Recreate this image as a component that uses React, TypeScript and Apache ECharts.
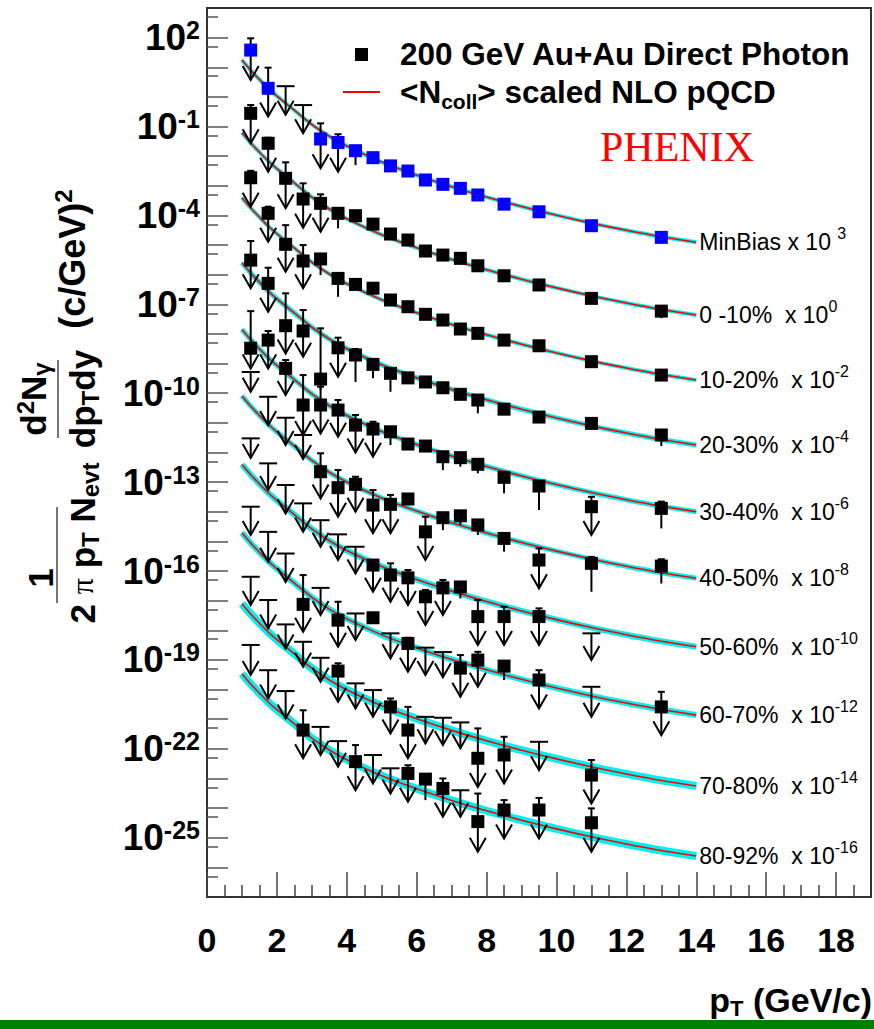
import React, { useEffect, useRef } from 'react';
import * as echarts from 'echarts';

// pT bin centres (GeV/c)
const ptBins = [1.25, 1.75, 2.25, 2.75, 3.25, 3.75, 4.25, 4.75, 5.25, 5.75, 6.25, 6.75, 7.25, 7.75, 8.5, 9.5, 11, 13];

// Each entry: [value (square) | null, upper end | null, lower end | null, arrow (1 = upper limit arrow)]
type Pt = [number | null, number | null, number | null, number] | null;

const minBias: Pt[] = [
  [38, 95, 3.7, 1], [1.95, 9.7, 0.22, 1], [null, 2.3, 0.25, 1], [null, 0.53, 0.059, 1],
  [0.038, 0.128, 0.0039, 1], [0.029, 0.055, 0.003, 1], [0.0153, 0.021, 0.005, 0], [8.9e-3, null, null, 0],
  [4.7e-3, null, null, 0], [3.15e-3, null, null, 0], [1.57e-3, null, null, 0], [1.12e-3, null, null, 0],
  [8.2e-4, null, null, 0], [4.9e-4, null, null, 0], [2.4e-4, null, null, 0], [1.33e-4, null, null, 0],
  [4.5e-5, null, null, 0], [1.82e-5, null, null, 0],
];
const cent0010: Pt[] = [
  [0.279, 0.532, 0.0272, 1], [0.0272, 0.042, 0.003, 1], [1.79e-3, 6.2e-3, 1.74e-4, 1], [3.58e-4, 1.21e-3, 3.85e-5, 1],
  [2.56e-4, 5.15e-4, 2.8e-5, 1], [1.18e-4, null, 3.67e-5, 0], [9.8e-5, null, null, 0], [5.1e-5, null, null, 0],
  [2.36e-5, null, null, 0], [1.48e-5, null, null, 0], [6.3e-6, null, null, 0], [4.6e-6, null, null, 0],
  [3.56e-6, null, null, 0], [2.0e-6, null, null, 0], [9.2e-7, null, null, 0], [4.5e-7, null, null, 0],
  [1.59e-7, null, null, 0], [5.9e-8, null, 3.4e-8, 0],
];
const cent1020: Pt[] = [
  [1.87e-3, 3.2e-3, 1.97e-4, 1], [1.18e-4, 1.97e-4, 1.3e-5, 1], [1.06e-5, 4.7e-5, 1.26e-6, 1], [2.9e-6, 1.0e-5, 3.5e-7, 1],
  [3.4e-6, 4.6e-6, 9.7e-7, 0], [7.5e-7, null, 1.8e-7, 0], [4.7e-7, null, null, 0], [3.5e-7, null, null, 0],
  [1.4e-7, null, null, 0], [8.3e-8, null, null, 0], [4.6e-8, null, null, 0], [2.95e-8, null, null, 0],
  [1.47e-8, null, null, 0], [1.05e-8, null, null, 0], [6.2e-9, null, null, 0], [4.0e-9, null, null, 0],
  [1.16e-9, null, null, 0], [4.1e-10, null, null, 0],
];
const cent2030: Pt[] = [
  [3.1e-6, 1.37e-5, 3.5e-7, 1], [5.1e-7, 1.72e-6, 5.6e-8, 1], [1.9e-8, 2.35e-7, 2.2e-9, 1], [1.26e-8, 6.4e-8, 1.7e-9, 1],
  [3.0e-10, 1.55e-8, 1.28e-10, 0], [3.4e-9, 7.5e-9, 3.6e-10, 1], [1.95e-9, 3.1e-9, 2.4e-10, 0], [9.4e-10, null, 3.2e-10, 0],
  [4.7e-10, null, 1.12e-10, 0], [3.3e-10, null, null, 0], [2.4e-10, null, null, 0], [1.53e-10, null, null, 0],
  [9.2e-11, null, null, 0], [5.9e-11, null, 2.1e-11, 0], [2.9e-11, null, null, 0], [1.57e-11, null, null, 0],
  [9.6e-12, null, null, 0], [3.9e-12, null, 1.65e-12, 0],
];
const cent3040: Pt[] = [
  [3.3e-9, 5.9e-8, 6.9e-10, 1], [6.2e-9, 1.26e-8, 6.9e-10, 1], [6.9e-10, 1.32e-9, 8.7e-11, 1], [4.0e-11, 4.1e-10, 3.9e-12, 1],
  [4.0e-11, 1.66e-10, 4.4e-12, 1], [2.7e-11, 5.9e-11, 3.4e-12, 1], [8.4e-12, 1.84e-11, 1.0e-12, 1], [6.2e-12, 1.09e-11, 7.2e-13, 1],
  [5.0e-12, 6.8e-12, 1.78e-12, 0], [1.93e-12, null, null, 0], [1.65e-12, null, null, 0], [7.2e-13, null, 2.55e-13, 0],
  [6.7e-13, null, 3.3e-13, 0], [4.0e-13, null, 1.98e-13, 0], [1.45e-13, null, 4.2e-14, 0], [7.4e-14, null, 1.14e-14, 0],
  [1.48e-14, 3.2e-14, 1.64e-15, 1], [1.3e-14, 2.2e-14, 2.75e-15, 0],
];
const cent4050: Pt[] = [
  [null, 5.2e-10, 1.12e-10, 1], [null, 7.6e-11, 8.4e-12, 1], [null, 1.49e-11, 1.78e-12, 1], [null, 3.9e-12, 6.0e-13, 1],
  [2.24e-13, 9.4e-13, 2.8e-14, 1], [6.5e-14, 2.55e-13, 6.8e-15, 1], [8.4e-14, 1.52e-13, 1.0e-14, 1], [1.68e-14, 5.4e-14, 1.87e-15, 1],
  [1.78e-14, 3.7e-14, 1.87e-15, 1], [2.7e-14, null, null, 0], [2.1e-15, 6.8e-15, 2.35e-16, 1], [6.3e-15, null, 2.4e-15, 0],
  [7.3e-15, null, 3.6e-15, 0], [3.6e-15, null, 1.64e-15, 0], [1.26e-15, null, 4.5e-16, 0], [2.35e-16, 5.8e-16, 2.6e-17, 1],
  [1.82e-16, 3.0e-16, 2.0e-17, 0], [1.47e-16, 2.5e-16, 3.8e-17, 0],
];
const cent5060: Pt[] = [
  [null, 3.0e-12, 6.5e-13, 1], [null, 4.3e-13, 5.4e-14, 1], [null, 8.0e-14, 8.8e-15, 1], [null, 1.92e-14, 2.1e-15, 1],
  [null, 5.2e-15, 6.6e-16, 1], [null, 1.73e-15, 2.35e-16, 1], [null, 6.6e-16, 8.3e-17, 1], [1.59e-16, 2.35e-16, 2.0e-17, 1],
  [7.3e-17, 1.82e-16, 9.2e-18, 1], [5.9e-17, 1.08e-16, 7.1e-18, 1], [1.35e-17, 2.3e-17, 1.5e-18, 1], [2.7e-17, 5.0e-17, 3.3e-18, 1],
  [2.9e-17, null, 1.19e-17, 0], [2.9e-18, 1.05e-17, 3.2e-19, 1], [2.9e-18, 6.2e-18, 3.2e-19, 1], [2.9e-18, 5.5e-18, 3.2e-19, 1],
  [null, 7.9e-19, 9.9e-20, 1], null,
];
const cent6070: Pt[] = [
  [null, 1.48e-14, 1.64e-15, 1], [null, 2.1e-15, 2.06e-16, 1], [null, 3.9e-16, 4.3e-17, 1], [7.5e-18, 7.3e-17, 8.9e-19, 1],
  [null, 2.7e-17, 3.3e-18, 1], [2.2e-18, 9.2e-18, 2.8e-19, 1], [null, 3.7e-18, 4.7e-19, 1], [2.65e-18, null, null, 0],
  [null, 7.9e-19, 1.13e-19, 1], [3.6e-19, 5.6e-19, 4.0e-20, 1], [null, 2.6e-19, 3.1e-20, 1], [null, 1.84e-19, 2.6e-20, 1],
  [5.3e-20, 1.46e-19, 5.7e-21, 1], [9.9e-20, 1.88e-19, 1.24e-20, 1], [6.2e-20, null, 2.1e-20, 0], [2.1e-20, 4.5e-20, 2.3e-21, 1],
  [null, 1.24e-20, 1.2e-21, 1], [2.6e-21, 8.4e-21, 2.9e-22, 1],
];
const cent7080: Pt[] = [
  [null, 6.4e-17, 7.1e-18, 1], [null, 1.05e-17, 1.16e-18, 1], [null, 1.58e-18, 2.45e-19, 1], [null, 4.1e-19, 5.9e-20, 1],
  [null, 1.18e-19, 1.83e-20, 1], [4.2e-20, 7.7e-20, 3.9e-21, 1], [null, 1.62e-20, 2.3e-21, 1], [null, 9.6e-21, 1.2e-21, 1],
  [2.6e-21, 5.0e-21, 3.3e-22, 1], [4.3e-22, 2.6e-21, 4.8e-23, 1], [null, 1.2e-21, 1.53e-22, 1], [null, 1.12e-21, 1.34e-22, 1],
  [null, 7.8e-22, 1.04e-22, 1], [4.8e-23, 4.9e-22, 5.2e-24, 1], [6.2e-23, 2.55e-22, 6.8e-24, 1], [null, 1.73e-22, 1.91e-23, 1],
  [1.3e-23, 4.2e-23, 1.44e-24, 1], null,
];
const cent8092: Pt[] = [
  [null, 3.2e-19, 3.1e-20, 1], [null, 4.5e-20, 5.0e-21, 1], [null, 8.9e-21, 1.06e-21, 1], [4.3e-22, 2.0e-21, 4.8e-23, 1],
  [null, 5.5e-22, 6.2e-23, 1], [null, 1.82e-22, 2.5e-23, 1], [3.7e-23, 1.34e-22, 4.0e-24, 1], [null, 6.2e-23, 6.8e-24, 1],
  [null, 2.2e-23, 3.1e-24, 1], [1.48e-23, 2.8e-23, 1.63e-24, 1], [9.5e-24, null, 1.86e-24, 0], [4.6e-24, 1.0e-23, 5.1e-25, 1],
  [null, 4.0e-24, 5.1e-25, 1], [3.5e-25, 3.1e-24, 3.35e-26, 1], [8.6e-25, 1.86e-24, 9.5e-26, 1], [8.6e-25, 2.2e-24, 9.5e-26, 1],
  [3.2e-25, 9.8e-25, 3.35e-26, 1], null,
];

const nloPt = [1.0, 1.25, 1.5, 1.75, 2, 2.5, 3, 3.5, 4, 5, 6, 7, 8, 9, 10, 11, 12, 13, 14];
const nloMinBias = [17.6, 7.94, 3.89, 1.95, 1.07, 0.355, 0.117, 0.0468, 0.0219, 6.31e-3, 2.29e-3, 9.33e-4, 4.17e-4, 2.0e-4, 1.02e-4, 5.5e-5, 3.16e-5, 1.91e-5, 1.24e-5];
const nloScale = [1, 3.52e-3, 2.25e-5, 1.44e-7, 8.1e-10, 4.6e-12, 2.25e-14, 1.11e-16, 4.5e-19, 1.95e-21];
const bandWidth = [4, 4, 4, 5, 5, 5, 6, 6, 8, 8];

const classLabels = ['MinBias x 10 ', '0 -10%  x 10', '10-20%  x 10', '20-30%  x 10', '30-40%  x 10', '40-50%  x 10', '50-60%  x 10', '60-70%  x 10', '70-80%  x 10', '80-92%  x 10'];
const classExp = ['3', '0', '-2', '-4', '-6', '-8', '-10', '-12', '-14', '-16'];
const classData = [minBias, cent0010, cent1020, cent2030, cent3040, cent4050, cent5060, cent6070, cent7080, cent8092];

// axis ticks and labels
const xMajor = [0, 2, 4, 6, 8, 10, 12, 14, 16, 18];
const xMinor = [0.5, 1, 1.5, 2.5, 3, 3.5, 4.5, 5, 5.5, 6.5, 7, 7.5, 8.5, 9, 9.5, 10.5, 11, 11.5, 12.5, 13, 13.5, 14.5, 15, 15.5, 16.5, 17, 17.5, 18.5];
const yLabelValues = [1e2, 1e-1, 1e-4, 1e-7, 1e-10, 1e-13, 1e-16, 1e-19, 1e-22, 1e-25];
const yDecadeExp = [2, 1, 0, -1, -2, -3, -4, -5, -6, -7, -8, -9, -10, -11, -12, -13, -14, -15, -16, -17, -18, -19, -20, -21, -22, -23, -24, -25, -26];

const FONT = "'Liberation Sans', Arial, Helvetica, sans-serif";
const SERIF = "'Liberation Serif', 'Times New Roman', serif";

export default function App() {
  const ref = useRef<HTMLDivElement>(null);
  useEffect(() => {
    const chart = echarts.init(ref.current!, null, { renderer: 'svg' });
    const decadeTicks = yDecadeExp.map((e) => Math.pow(10, e));
    const halfTicks = yDecadeExp.concat([-27]).map((e) => 5 * Math.pow(10, e));

    const series: any[] = [];
    classData.forEach((cls, k) => {
      const curve = nloPt.map((pt, i) => [pt, nloMinBias[i] * nloScale[k]]);
      series.push({
        type: 'line', name: 'band', data: curve, smooth: 0.3, showSymbol: false, silent: true,
        lineStyle: { color: '#00f0f0', width: bandWidth[k] }, z: 2,
      });
      series.push({
        type: 'line', name: 'NLO', data: curve, smooth: 0.3, showSymbol: false, silent: true,
        lineStyle: { color: '#ff0000', width: 1.6 }, z: 3,
        endLabel: {
          show: true, distance: 3, color: '#000', fontFamily: FONT,
          formatter: `{t|${classLabels[k]}}{s|${classExp[k]}}`,
          rich: {
            t: { fontSize: 23, lineHeight: 23, fontFamily: FONT, color: '#000' },
            s: { fontSize: 16, lineHeight: 23, fontFamily: FONT, color: '#000', padding: [0, 0, 17, 0] },
          },
        },
      });
      const color = k === 0 ? '#0000ff' : '#000000';
      const data = cls
        .map((e, i) => (e ? [ptBins[i], e[0], e[1], e[2], e[3]] : null))
        .filter((d) => d !== null);
      series.push({
        type: 'custom', name: 'data', data, silent: true, z: 5,
        encode: { x: 0, y: 1 },
        renderItem: (params: any, api: any) => {
          const x = api.value(0);
          const v = api.value(1);
          const hi = api.value(2);
          const lo = api.value(3);
          const ar = api.value(4);
          const has = (n: number) => n != null && !isNaN(n) && n > 0;
          const ref0 = has(v) ? v : has(hi) ? hi : lo;
          const px = api.coord([x, ref0])[0];
          const pV = has(v) ? api.coord([x, v])[1] : null;
          const pHi = has(hi) ? api.coord([x, hi])[1] : null;
          const pLo = has(lo) ? api.coord([x, lo])[1] : null;
          const ls = { stroke: '#000', lineWidth: 2, fill: null };
          const children: any[] = [];
          const top = pHi != null ? pHi : pV;
          const bot = pLo != null ? pLo : pV;
          if (top != null && bot != null && bot - top > 0.5) {
            children.push({ type: 'line', shape: { x1: px, y1: top, x2: px, y2: bot }, style: ls });
          }
          if (pHi != null) {
            const w = pV == null ? 9 : 3.5;
            children.push({ type: 'line', shape: { x1: px - w, y1: pHi, x2: px + w, y2: pHi }, style: ls });
          }
          if (pLo != null && ar === 1) {
            children.push({ type: 'polyline', shape: { points: [[px - 8, pLo - 14], [px, pLo], [px + 8, pLo - 14]] }, style: ls });
          }
          if (pV != null) {
            children.push({ type: 'rect', shape: { x: px - 6.5, y: pV - 6.5, width: 13, height: 13 }, style: { fill: color } });
          }
          return { type: 'group', children };
        },
      });
    });

    const option: any = {
      animation: false,
      backgroundColor: '#ffffff',
      grid: { left: 207, top: 8, width: 664, height: 889, show: true, borderColor: '#333', borderWidth: 2, backgroundColor: 'transparent' },
      xAxis: [
        {
          type: 'value', min: 0, max: 19, position: 'bottom',
          axisLine: { show: true, lineStyle: { color: '#333', width: 2 } },
          axisTick: { show: true, inside: true, length: 25, customValues: xMajor, lineStyle: { color: '#444', width: 1.5 } },
          axisLabel: { customValues: xMajor, fontSize: 34, fontWeight: 'bold', color: '#000', fontFamily: FONT, margin: 26 },
          splitLine: { show: false },
        },
        {
          type: 'value', min: 0, max: 19, position: 'bottom',
          axisLine: { show: false },
          axisTick: { show: true, inside: true, length: 12, customValues: xMinor, lineStyle: { color: '#444', width: 1.5 } },
          axisLabel: { show: false }, splitLine: { show: false },
        },
      ],
      yAxis: [
        {
          type: 'log', logBase: 10, min: 1e-27, max: 1e3, position: 'left',
          axisLine: { show: true, lineStyle: { color: '#333', width: 2 } },
          axisTick: { show: true, inside: true, length: 21, customValues: decadeTicks, lineStyle: { color: '#555', width: 1.5 } },
          axisLabel: {
            customValues: yLabelValues, margin: 7, color: '#000',
            formatter: (val: number) => `{b|10}{s|${Math.round(Math.log10(val))}}`,
            rich: {
              b: { fontSize: 37, lineHeight: 37, fontWeight: 'bold', fontFamily: FONT, color: '#000' },
              s: { fontSize: 25, lineHeight: 37, fontWeight: 'bold', fontFamily: FONT, color: '#000', padding: [0, 0, 15, 0] },
            },
          },
          splitLine: { show: false },
        },
        {
          type: 'log', logBase: 10, min: 1e-27, max: 1e3, position: 'left',
          axisLine: { show: false },
          axisTick: { show: true, inside: true, length: 11, customValues: halfTicks, lineStyle: { color: '#555', width: 1.5 } },
          axisLabel: { show: false }, splitLine: { show: false },
        },
      ],
      series,
      graphic: [
        // legend
        { type: 'rect', shape: { x: 355, y: 48, width: 13, height: 13 }, style: { fill: '#000' } },
        { type: 'text', x: 400, y: 54, style: { text: '200 GeV Au+Au Direct Photon', font: `bold 31.5px ${FONT}`, fill: '#000', verticalAlign: 'middle' } },
        { type: 'line', shape: { x1: 343, y1: 92, x2: 380, y2: 92 }, style: { stroke: '#ff0000', lineWidth: 2 } },
        {
          type: 'text', x: 400, y: 92,
          style: {
            text: '{a|<N}{u|coll}{a|> scaled NLO pQCD}', verticalAlign: 'middle',
            rich: {
              a: { fontSize: 31.5, lineHeight: 31, fontWeight: 'bold', fontFamily: FONT, fill: '#000' },
              u: { fontSize: 21, lineHeight: 31, fontWeight: 'bold', fontFamily: FONT, fill: '#000', padding: [18, 0, 0, 0] },
            },
          },
        },
        { type: 'text', x: 600, y: 147, style: { text: 'PHENIX', font: `42px ${SERIF}`, fill: '#ff0000', verticalAlign: 'middle' } },
        // y-axis title (rotated)
        {
          type: 'group', x: 0, y: 640, rotation: Math.PI / 2,
          children: [
            { type: 'text', x: 62, y: 40, style: { text: '1', font: `bold 35px ${FONT}`, fill: '#000', align: 'center', verticalAlign: 'middle' } },
            { type: 'line', shape: { x1: 37, y1: 57, x2: 133, y2: 57 }, style: { stroke: '#777', lineWidth: 2 } },
            {
              type: 'text', x: 97, y: 82,
              style: {
                text: '{m|2 }{g|π}{m| p}{u|T}{m| N}{u|evt}', align: 'center', verticalAlign: 'middle',
                rich: {
                  m: { fontSize: 35, lineHeight: 35, fontWeight: 'bold', fontFamily: FONT, fill: '#000' },
                  g: { fontSize: 32, lineHeight: 35, fontFamily: SERIF, fill: '#000' },
                  u: { fontSize: 24, lineHeight: 35, fontWeight: 'bold', fontFamily: FONT, fill: '#000', padding: [16, 0, 0, 0] },
                },
              },
            },
            {
              type: 'text', x: 241, y: 33,
              style: {
                text: '{m|d}{o|2}{m|N}{u|γ}', align: 'center', verticalAlign: 'middle',
                rich: {
                  m: { fontSize: 35, lineHeight: 35, fontWeight: 'bold', fontFamily: FONT, fill: '#000' },
                  o: { fontSize: 24, lineHeight: 35, fontWeight: 'bold', fontFamily: FONT, fill: '#000', padding: [0, 0, 16, 0] },
                  u: { fontSize: 24, lineHeight: 35, fontWeight: 'bold', fontFamily: FONT, fill: '#000', padding: [16, 0, 0, 0] },
                },
              },
            },
            { type: 'line', shape: { x1: 202, y1: 58, x2: 280, y2: 58 }, style: { stroke: '#777', lineWidth: 2 } },
            {
              type: 'text', x: 241, y: 82,
              style: {
                text: '{m|dp}{u|T}{m|dy}', align: 'center', verticalAlign: 'middle',
                rich: {
                  m: { fontSize: 35, lineHeight: 35, fontWeight: 'bold', fontFamily: FONT, fill: '#000' },
                  u: { fontSize: 24, lineHeight: 35, fontWeight: 'bold', fontFamily: FONT, fill: '#000', padding: [16, 0, 0, 0] },
                },
              },
            },
            {
              type: 'text', x: 381, y: 72,
              style: {
                text: '{m|(c/GeV)}{o|2}', align: 'center', verticalAlign: 'middle',
                rich: {
                  m: { fontSize: 36, lineHeight: 36, fontWeight: 'bold', fontFamily: FONT, fill: '#000' },
                  o: { fontSize: 24, lineHeight: 36, fontWeight: 'bold', fontFamily: FONT, fill: '#000', padding: [0, 0, 18, 0] },
                },
              },
            },
          ],
        },
        // x-axis title
        {
          type: 'text', x: 872, y: 1000,
          style: {
            text: '{m|p}{u|T}{m| (GeV/c)}', align: 'right', verticalAlign: 'middle',
            rich: {
              m: { fontSize: 34, lineHeight: 34, fontWeight: 'bold', fontFamily: FONT, fill: '#000' },
              u: { fontSize: 22, lineHeight: 34, fontWeight: 'bold', fontFamily: FONT, fill: '#000', padding: [16, 0, 0, 0] },
            },
          },
        },
        { type: 'rect', shape: { x: 0, y: 1020, width: 874, height: 9 }, style: { fill: '#008000' } },
      ],
    };
    chart.setOption(option);
    return () => chart.dispose();
  }, []);
  return <div ref={ref} style={{ position: 'absolute', left: 0, top: 0, width: 874, height: 1029, background: '#fff' }} />;
}
